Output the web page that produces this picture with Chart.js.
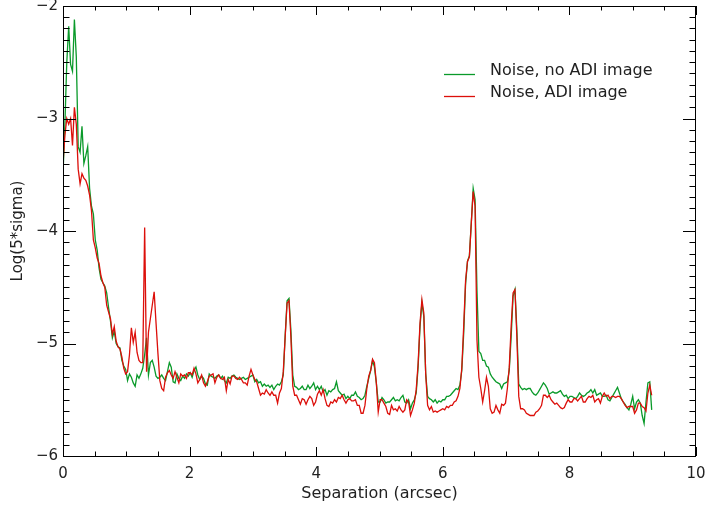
<!DOCTYPE html>
<html>
<head>
<meta charset="utf-8">
<script src="https://cdn.jsdelivr.net/npm/chart.js@4"></script>
<style>
  html, body { margin: 0; padding: 0; background: #fff; }
  #wrap { width: 707px; height: 508px; }
</style>
</head>
<body>
<div id="wrap"><canvas id="noiseChart" width="707" height="508"></canvas></div>
<script>
  // samples every 0.03 arcsec starting at 0
  const sepStep = 0.03;

  const noiseNoAdi = [
    -3.50, -3.05, -2.50, -2.18, -2.52, -2.58, -2.12, -2.45, -3.25, -3.30,
    -3.07, -3.40, -3.33, -3.25, -3.62, -3.78, -3.85, -4.08, -4.17, -4.33,
    -4.43, -4.46, -4.49, -4.55, -4.68, -4.80, -4.95, -4.89, -5.00, -5.03,
    -5.04, -5.15, -5.20, -5.23, -5.33, -5.27, -5.30, -5.35, -5.38, -5.28,
    -5.31, -5.27, -5.22, -5.10, -4.95, -5.28, -5.17, -5.15, -5.21, -5.29,
    -5.31, -5.30, -5.28, -5.31, -5.33, -5.25, -5.17, -5.21, -5.34, -5.35,
    -5.27, -5.31, -5.33, -5.29, -5.31, -5.27, -5.29, -5.26, -5.30, -5.24,
    -5.21, -5.28, -5.32, -5.29, -5.31, -5.36, -5.37, -5.27, -5.29, -5.30,
    -5.31, -5.29, -5.28, -5.31, -5.29, -5.33, -5.35, -5.30, -5.31, -5.29,
    -5.28, -5.30, -5.31, -5.32, -5.31, -5.30, -5.32, -5.31, -5.30, -5.29,
    -5.28, -5.34, -5.32, -5.35, -5.34, -5.38, -5.36, -5.38, -5.37, -5.39,
    -5.37, -5.41, -5.38, -5.36, -5.37, -5.34, -5.28, -4.93, -4.62, -4.60,
    -4.88, -5.28, -5.38, -5.39, -5.41, -5.40, -5.38, -5.41, -5.41, -5.37,
    -5.40, -5.38, -5.35, -5.41, -5.38, -5.41, -5.38, -5.43, -5.41, -5.46,
    -5.42, -5.43, -5.41, -5.40, -5.34, -5.42, -5.44, -5.46, -5.45, -5.49,
    -5.47, -5.49, -5.46, -5.46, -5.43, -5.47, -5.48, -5.50, -5.49, -5.46,
    -5.38, -5.31, -5.24, -5.15, -5.21, -5.35, -5.52, -5.52, -5.48, -5.50,
    -5.53, -5.52, -5.52, -5.50, -5.48, -5.51, -5.50, -5.51, -5.48, -5.46,
    -5.52, -5.53, -5.50, -5.58, -5.53, -5.50, -5.44, -5.21, -4.85, -4.64,
    -4.76, -5.27, -5.47, -5.49, -5.50, -5.52, -5.50, -5.53, -5.51, -5.52,
    -5.50, -5.50, -5.47, -5.47, -5.46, -5.44, -5.42, -5.40, -5.41, -5.37,
    -5.24, -4.91, -4.47, -4.27, -4.22, -3.93, -3.62, -3.72, -4.53, -5.07,
    -5.09, -5.15, -5.15, -5.20, -5.21, -5.27, -5.30, -5.32, -5.34, -5.35,
    -5.36, -5.40, -5.36, -5.35, -5.34, -5.24, -4.94, -4.58, -4.52, -4.88,
    -5.36, -5.39, -5.41, -5.40, -5.41, -5.40, -5.40, -5.43, -5.45, -5.46,
    -5.44, -5.41, -5.38, -5.35, -5.37, -5.40, -5.45, -5.44, -5.43, -5.44,
    -5.44, -5.43, -5.42, -5.45, -5.47, -5.46, -5.49, -5.47, -5.47, -5.48,
    -5.49, -5.47, -5.44, -5.46, -5.47, -5.46, -5.44, -5.43, -5.41, -5.44,
    -5.41, -5.46, -5.45, -5.44, -5.47, -5.47, -5.46, -5.50, -5.51, -5.48,
    -5.45, -5.42, -5.39, -5.44, -5.49, -5.52, -5.54, -5.57, -5.59, -5.54,
    -5.47, -5.58, -5.52, -5.50, -5.53, -5.64, -5.71, -5.52, -5.35, -5.34,
    -5.59
  ];

  const noiseAdi = [
    -3.40, -3.15, -3.00, -3.05, -3.00, -3.24, -2.90, -3.05, -3.45, -3.58,
    -3.49, -3.53, -3.55, -3.60, -3.68, -3.82, -4.08, -4.15, -4.24, -4.29,
    -4.40, -4.46, -4.50, -4.66, -4.72, -4.78, -4.92, -4.85, -4.98, -5.03,
    -5.05, -5.12, -5.22, -5.27, -5.25, -5.10, -4.86, -4.99, -4.90, -5.08,
    -5.15, -5.17, -5.17, -3.97, -5.25, -4.90, -4.78, -4.66, -4.54, -4.82,
    -5.09, -5.33, -5.40, -5.42, -5.30, -5.26, -5.24, -5.28, -5.31, -5.25,
    -5.30, -5.35, -5.27, -5.29, -5.28, -5.31, -5.26, -5.26, -5.28, -5.22,
    -5.27, -5.35, -5.32, -5.28, -5.35, -5.38, -5.34, -5.29, -5.28, -5.27,
    -5.35, -5.30, -5.28, -5.31, -5.32, -5.30, -5.42, -5.32, -5.36, -5.29,
    -5.29, -5.31, -5.32, -5.30, -5.32, -5.35, -5.35, -5.37, -5.29, -5.23,
    -5.28, -5.32, -5.34, -5.40, -5.46, -5.44, -5.45, -5.41, -5.44, -5.46,
    -5.43, -5.46, -5.46, -5.53, -5.44, -5.40, -5.25, -4.94, -4.64, -4.62,
    -4.94, -5.38, -5.46, -5.46, -5.50, -5.54, -5.49, -5.50, -5.54, -5.50,
    -5.47, -5.49, -5.55, -5.52, -5.45, -5.42, -5.46, -5.41, -5.49, -5.55,
    -5.56, -5.52, -5.53, -5.50, -5.52, -5.48, -5.49, -5.46, -5.50, -5.53,
    -5.50, -5.49, -5.51, -5.51, -5.50, -5.55, -5.55, -5.62, -5.62, -5.55,
    -5.40, -5.29, -5.24, -5.14, -5.17, -5.35, -5.61, -5.50, -5.50, -5.53,
    -5.56, -5.62, -5.63, -5.55, -5.59, -5.58, -5.60, -5.56, -5.59, -5.61,
    -5.59, -5.50, -5.52, -5.64, -5.59, -5.53, -5.41, -5.18, -4.82, -4.61,
    -4.73, -5.27, -5.55, -5.59, -5.56, -5.61, -5.60, -5.61, -5.60, -5.59,
    -5.58, -5.59, -5.56, -5.57, -5.55, -5.55, -5.52, -5.51, -5.47, -5.40,
    -5.22, -4.85, -4.44, -4.27, -4.23, -3.93, -3.65, -3.78, -4.97, -5.30,
    -5.40, -5.52, -5.42, -5.30, -5.38, -5.58, -5.62, -5.61, -5.55, -5.59,
    -5.62, -5.54, -5.55, -5.53, -5.40, -5.21, -4.85, -4.55, -4.52, -4.94,
    -5.47, -5.58, -5.58, -5.59, -5.62, -5.63, -5.64, -5.64, -5.64, -5.61,
    -5.60, -5.58, -5.55, -5.46, -5.46, -5.48, -5.46, -5.50, -5.52, -5.54,
    -5.53, -5.55, -5.57, -5.58, -5.57, -5.53, -5.50, -5.52, -5.52, -5.49,
    -5.49, -5.51, -5.49, -5.47, -5.52, -5.52, -5.49, -5.47, -5.48, -5.46,
    -5.52, -5.50, -5.49, -5.53, -5.47, -5.44, -5.47, -5.46, -5.49, -5.47,
    -5.47, -5.48, -5.47, -5.47, -5.49, -5.52, -5.55, -5.57, -5.56, -5.56,
    -5.56, -5.62, -5.59, -5.53, -5.53, -5.56, -5.57, -5.60, -5.44, -5.37,
    -5.46
  ];

  const seriesLabels = ['Noise, no ADI image', 'Noise, ADI image'];
  const seriesColors = ['#0a9a2a', '#dc0f0a'];
  const xTicks = [0, 2, 4, 6, 8, 10];
  const yTicks = [-6, -5, -4, -3, -2];

  const separation = noiseNoAdi.map((_, i) => +(i * sepStep).toFixed(2));
  const FONT = "'DejaVu Sans', sans-serif";
  const minus = v => String(v).replace('-', '\u2212');

  // IDL style box: inward ticks on all four sides, plus the inset legend
  const idlFrame = {
    id: 'idlFrame',
    afterDatasetsDraw(chart) {
      const { ctx, chartArea: a, scales: { x, y } } = chart;
      ctx.save();
      ctx.strokeStyle = '#000';
      ctx.lineWidth = 1;
      ctx.beginPath();
      for (let k = 0; k <= 20; k++) {
        const px = Math.round(x.getPixelForValue(k * 0.5)) + 0.5;
        const len = k % 4 === 0 ? 9 : 4.5;
        ctx.moveTo(px, a.bottom); ctx.lineTo(px, a.bottom - len);
        ctx.moveTo(px, a.top); ctx.lineTo(px, a.top + len);
      }
      for (let k = 0; k <= 40; k++) {
        const py = Math.round(y.getPixelForValue(-6 + k * 0.1)) + 0.5;
        const len = k % 10 === 0 ? 13 : 6.5;
        ctx.moveTo(a.left, py); ctx.lineTo(a.left + len, py);
        ctx.moveTo(a.right, py); ctx.lineTo(a.right - len, py);
      }
      ctx.stroke();
      ctx.strokeRect(a.left + 0.5, a.top + 0.5, a.right - a.left - 1, a.bottom - a.top);

      // legend
      ctx.font = '16px ' + FONT;
      ctx.textBaseline = 'middle';
      ctx.fillStyle = '#222';
      ctx.lineWidth = 1.3;
      seriesLabels.forEach((lab, i) => {
        const ly = 74 + i * 22;
        ctx.strokeStyle = seriesColors[i];
        ctx.beginPath();
        ctx.moveTo(444, ly + 0.5); ctx.lineTo(475, ly + 0.5);
        ctx.stroke();
        ctx.fillText(lab, 490, ly - 3);
      });
      ctx.restore();
    }
  };

  const data = {
    labels: separation,
    datasets: [
      {
        label: seriesLabels[0],
        data: noiseNoAdi,
        borderColor: seriesColors[0],
        borderWidth: 1.3,
        pointRadius: 0,
        tension: 0,
        order: 1,
      },
      {
        label: seriesLabels[1],
        data: noiseAdi,
        borderColor: seriesColors[1],
        borderWidth: 1.3,
        pointRadius: 0,
        tension: 0,
        order: 0,
      },
    ],
  };

  const config = {
    type: 'line',
    data: data,
    plugins: [idlFrame],
    options: {
      responsive: false,
      animation: false,
      devicePixelRatio: 1,
      layout: { padding: { top: 6, right: 11, bottom: 0, left: 0 } },
      plugins: {
        legend: { display: false },
        tooltip: { enabled: false },
      },
      scales: {
        x: {
          type: 'linear',
          min: 0,
          max: 10,
          grid: { display: false, drawTicks: false },
          border: { display: false },
          afterBuildTicks: s => { s.ticks = xTicks.map(v => ({ value: v })); },
          afterFit: s => { s.height = 52; s.paddingLeft = 0; s.paddingRight = 0; },
          ticks: {
            padding: 9,
            maxRotation: 0,
            color: '#222',
            font: { family: FONT, size: 15 },
            callback: v => minus(v),
          },
          title: {
            display: true,
            text: 'Separation (arcsec)',
            color: '#222',
            font: { family: FONT, size: 16 },
            padding: { top: 0, bottom: 5 },
          },
        },
        y: {
          min: -6,
          max: -2,
          grid: { display: false, drawTicks: false },
          border: { display: false },
          afterBuildTicks: s => { s.ticks = yTicks.map(v => ({ value: v })); },
          afterFit: s => { s.width = 63; s.paddingTop = 0; s.paddingBottom = 0; },
          ticks: {
            padding: 5,
            color: '#222',
            font: { family: FONT, size: 15 },
            callback: v => minus(v),
          },
          title: {
            display: true,
            text: 'Log(5*sigma)',
            color: '#222',
            font: { family: FONT, size: 15 },
            padding: { top: 9, bottom: 0 },
          },
        },
      },
    },
  };

  const noiseChart = new Chart(document.getElementById('noiseChart'), config);
</script>
</body>
</html>
